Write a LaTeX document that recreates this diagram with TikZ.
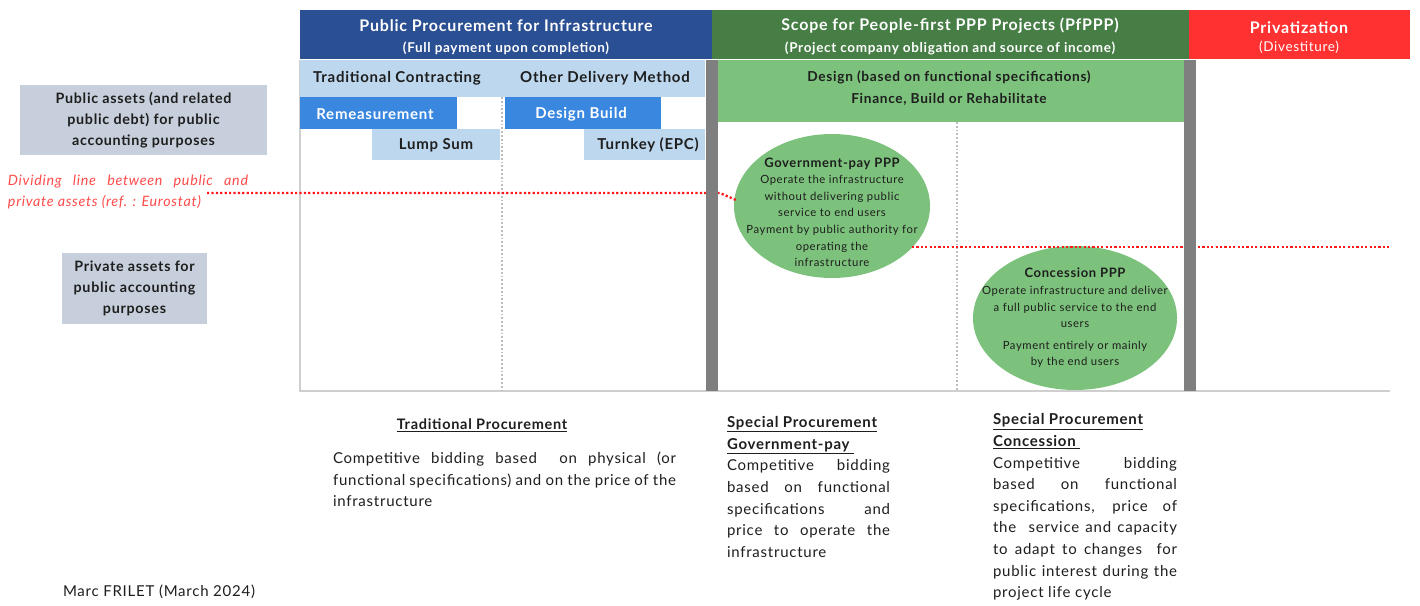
\documentclass[tikz,border=0pt]{standalone}
\usepackage{fontspec}
\setmainfont{Lato}[LetterSpace=5]
\usetikzlibrary{shapes.geometric}
\definecolor{hblue}{HTML}{2B4F93}
\definecolor{hgreen}{HTML}{467E45}
\definecolor{hred}{HTML}{FF3131}
\definecolor{lblue}{HTML}{BDD7EE}
\definecolor{mblue}{HTML}{3A87E0}
\definecolor{lgreen}{HTML}{7CC27C}
\definecolor{ellg}{HTML}{7CC27C}
\definecolor{gbox}{HTML}{C6CFDB}
\definecolor{gbar}{HTML}{7F7F7F}
\definecolor{frame}{HTML}{CFCFCF}
\definecolor{dotg}{HTML}{BDBDBD}
\definecolor{redtxt}{HTML}{FF4B4B}
\definecolor{redln}{HTML}{FF1A1A}
\definecolor{txt}{HTML}{1E1E1E}
\newcommand\fsz[2]{\fontsize{#1}{#2}\selectfont}
\newcommand\jl[2]{\makebox[#1pt][s]{#2}}
\begin{document}
\begin{tikzpicture}[x=1pt,y=-1pt,
  every node/.style={inner sep=0pt, outer sep=0pt, text=txt},
  blk/.style={rectangle, draw=none},
  hd/.style={font=\fsz{16}{20}\bfseries, text=white},
  subhd/.style={font=\fsz{13.5}{16}\bfseries, text=white},
  lbl/.style={font=\fsz{15}{18}\bfseries},
  gtxt/.style={font=\fsz{13.7}{18}\bfseries},
  leftbox/.style={blk, fill=gbox, align=center, font=\fsz{14.3}{21}\bfseries},
  ell/.style={ellipse, fill=ellg, draw=none},
  etitle/.style={font=\fsz{13}{16}\bfseries},
  ebody/.style={font=\fsz{11.3}{16.6}, align=center},
  para/.style={font=\fsz{15}{21.6}, align=left, anchor=west},
  redline/.style={draw=redln, line width=2.4pt, dash pattern=on 2.2pt off 2.2pt},
  dotline/.style={draw=dotg, line width=1.6pt, dash pattern=on 1.8pt off 2pt},
  framel/.style={draw=frame, line width=1.6pt},
  bar/.style={blk, fill=gbar, minimum width=12pt, minimum height=331pt}
]
\useasboundingbox (0,0) rectangle (1420,605);
\fill[white] (0,0) rectangle (1420,605);

% frame lines
\coordinate (fTL) at (300,60);
\coordinate (fBL) at (300,391);
\coordinate (fBR) at (1390,391);
\draw[framel] (fTL) -- (fBL) -- (fBR);

% dotted separators
\coordinate (d1a) at (502,97);
\coordinate (d1b) at (502,391);
\coordinate (d2a) at (957,122);
\coordinate (d2b) at (957,391);
\draw[dotline] (d1a) -- (d1b);
\draw[dotline] (d2a) -- (d2b);

% headers
\node[blk, fill=hblue, minimum width=412pt, minimum height=49pt] (hb) at (506,34.5) {};
\node[blk, fill=hgreen, minimum width=477pt, minimum height=49pt] (hg) at (950.5,34.5) {};
\node[blk, fill=hred, minimum width=221pt, minimum height=49pt] (hr) at (1299.5,34.5) {};
\node[hd] (t1) at (506,26) {Public Procurement for Infrastructure};
\node[subhd] (s1) at (506,48) {(Full payment upon completion)};
\node[hd] (t2) at (950,26) {Scope for People-first PPP Projects (PfPPP)};
\node[subhd] (s2) at (950,48) {(Project company obligation and source of income)};
\node[hd] (t3) at (1299,28) {Privatization};
\node[font=\fsz{13.5}{16}, text=white] (s3) at (1299,47) {(Divestiture)};

% public procurement boxes
\node[blk, fill=lblue, minimum width=202pt, minimum height=37pt] (tc) at (401,78.5) {};
\node[blk, fill=lblue, minimum width=203pt, minimum height=37pt] (od) at (603.5,78.5) {};
\node[lbl] (tct) at (397,78) {Traditional Contracting};
\node[lbl] (odt) at (605,78) {Other Delivery Method};
\node[blk, fill=mblue, minimum width=157pt, minimum height=32pt] (rm) at (378.5,113) {};
\node[lbl, text=white] (rmt) at (375,114) {Remeasurement};
\node[blk, fill=mblue, minimum width=156pt, minimum height=32pt] (db) at (583,113) {};
\node[lbl, text=white] (dbt) at (581,114) {Design Build};
\node[blk, fill=lblue, minimum width=128pt, minimum height=31pt] (ls) at (436,144.5) {};
\node[lbl] (lst) at (436,145) {Lump Sum};
\node[blk, fill=lblue, minimum width=121pt, minimum height=31pt] (tk) at (644.5,144.5) {};
\node[lbl] (tkt) at (648,145) {Turnkey (EPC)};

% green scope box
\node[blk, fill=lgreen, minimum width=466pt, minimum height=62pt] (gb) at (951,91) {};
\node[gtxt] (gb1) at (949,77) {Design (based on functional specifications)};
\node[gtxt] (gb2) at (949,99) {Finance, Build or Rehabilitate};

% left boxes
\node[leftbox, minimum width=247pt, minimum height=70pt] (pub) at (143.5,120) {Public assets (and related\\public debt) for public\\accounting purposes};
\node[leftbox, minimum width=145pt, minimum height=71pt] (priv) at (134.5,288.5) {Private assets for\\public accounting\\purposes};

% red italic text
\node[font=\fsz{14.3}{21}\itshape, text=redtxt, align=left, anchor=west] (divt) at (8,191.5)
  {\jl{240}{Dividing line between public and}\\private assets (ref. : Eurostat)};

% ellipses
\node[ell, minimum width=196pt, minimum height=144pt] (gov) at (832,206) {};
\node[ell, minimum width=204pt, minimum height=144pt] (con) at (1075,318) {};
\node[etitle] (govt) at (832,164) {Government-pay PPP};
\node[ebody] (govb) at (832,221) {Operate the infrastructure\\without delivering public\\service to end users\\Payment by public authority for\\operating the\\infrastructure};
\node[etitle] (cont) at (1075,273) {Concession PPP};
\node[ebody] (conb) at (1075,327) {Operate infrastructure and deliver\\a full public service to the end\\users\\[5pt]Payment entirely or mainly\\by the end users};

% red dotted lines
\coordinate (r1a) at (207,193);
\coordinate (r1m) at (720,193);
\coordinate (r1b) at (736,200);
\draw[redline] (r1a) -- (r1m) -- (r1b);
\coordinate (r2a) at (912,247);
\coordinate (r2b) at (1390,247);
\draw[redline] (r2a) -- (r2b);

% gray bars
\node[bar] (bar1) at (712,225.5) {};
\node[bar] (bar2) at (1190,225.5) {};

% bottom texts
\node[font=\fsz{14.5}{18}\bfseries] (trh) at (482,425) {\underline{Traditional Procurement}};
\node[para] (trp) at (333,479.5) {\jl{343}{Competitive bidding based \ on physical (or}\\
  \jl{343}{functional specifications) and on the price of the}\\infrastructure};
\node[para] (gpp) at (727,487) {\textbf{\underline{Special Procurement}}\\
  \textbf{\underline{Government-pay\ }}\\
  \jl{163}{Competitive bidding}\\
  \jl{163}{based on functional}\\
  \jl{163}{specifications and}\\
  \jl{163}{price to operate the}\\
  infrastructure};
\node[para] (cop) at (993,507) {\textbf{\underline{Special Procurement}}\\
  \textbf{\underline{Concession\ }}\\
  \jl{184}{Competitive bidding}\\
  \jl{184}{based on functional}\\
  \jl{184}{specifications, price of}\\
  \jl{184}{the \ service and capacity}\\
  \jl{184}{to adapt to changes \ for}\\
  \jl{184}{public interest during the}\\
  project life cycle};
\node[font=\fsz{15}{18}, anchor=west] (auth) at (63,592) {Marc FRILET (March 2024)};
\end{tikzpicture}
\end{document}
